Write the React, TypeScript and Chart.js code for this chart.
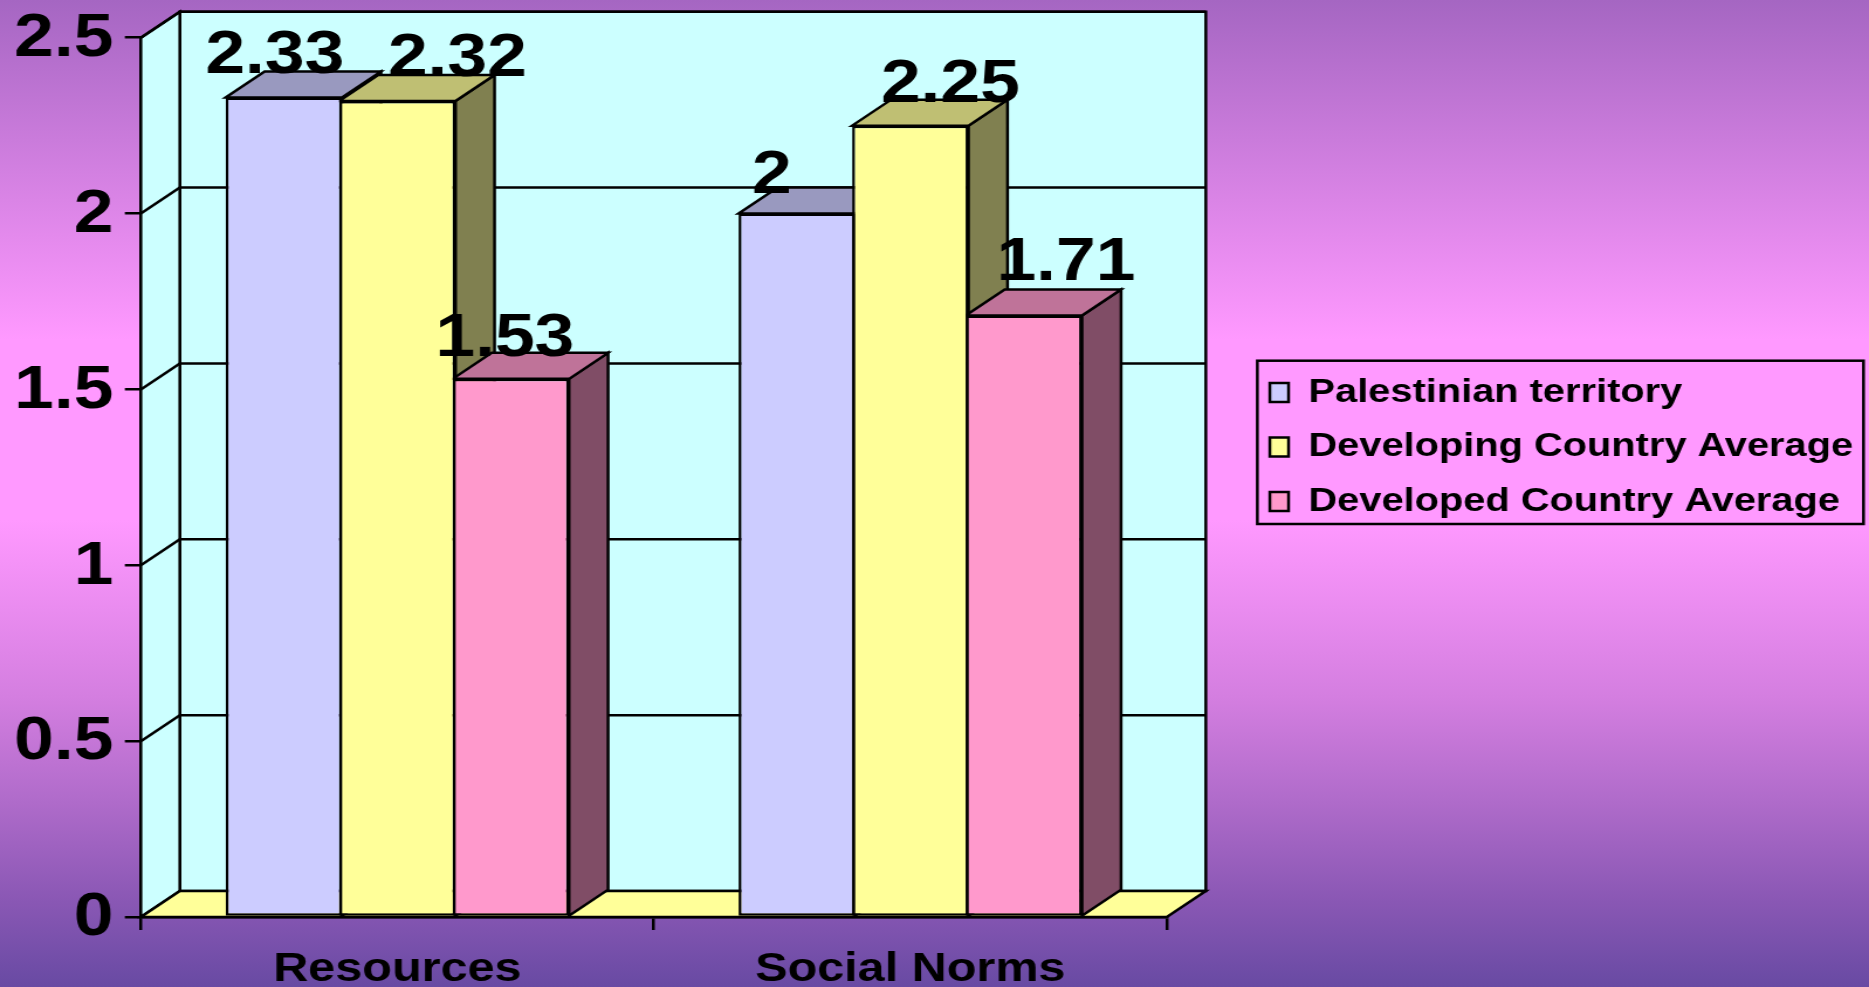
import React, { useEffect, useRef } from "react";
import { Chart, registerables } from "chart.js";

Chart.register(...registerables);

const categories = ["Resources", "Social Norms"];
const seriesNames = ["Palestinian territory", "Developing Country Average", "Developed Country Average"];
const palestinian = [2.33, 2];
const developing = [2.32, 2.25];
const developed = [1.53, 1.71];

const W = 1869;
const H = 987;
const SX = 1.17; // the reference is stretched horizontally
const X = (px: number) => px / SX;
const DX = X(39);
const DY = 26;
const LW = 2.5;
const FONT = "'Liberation Sans', Arial, sans-serif";

const fronts = ["#CCCCFF", "#FFFF99", "#FF99CC"];
const tops = ["#9999BF", "#BFBF73", "#BF7399"];
const sides = ["#808099", "#808050", "#804D66"];

// label nudges from the bar's top-centre, in page px: [dx, dy baseline]
const labelNudges = [
  [[-9, -24], [-25, -21]],
  [[60, -25], [40, -24]],
  [[-6, -23], [42, -36]],
];

function poly(ctx: CanvasRenderingContext2D, pts: number[][], fill: string) {
  ctx.beginPath();
  pts.forEach((p, i) => (i ? ctx.lineTo(p[0], p[1]) : ctx.moveTo(p[0], p[1])));
  ctx.closePath();
  ctx.fillStyle = fill;
  ctx.fill();
  ctx.stroke();
}

const threeD = {
  id: "threeD",
  afterLayout(chart: any) {
    const lg = chart.legend;
    lg.left = X(1269.5) - 20.5;
    lg.right = X(1869);
    lg.top = 355;
    lg.bottom = 560;
  },
  beforeDatasetsDraw(chart: any) {
    const ctx = chart.ctx as CanvasRenderingContext2D;
    const { left, right, top, bottom } = chart.chartArea;
    const yS = chart.scales.y;
    ctx.save();
    ctx.strokeStyle = "#000";
    ctx.lineWidth = LW;
    ctx.lineJoin = "miter";
    // back wall
    poly(ctx, [[left + DX, top - DY], [right + DX, top - DY], [right + DX, bottom - DY], [left + DX, bottom - DY]], "#CCFFFF");
    // side wall
    poly(ctx, [[left, top], [left + DX, top - DY], [left + DX, bottom - DY], [left, bottom]], "#CCFFFF");
    // floor
    poly(ctx, [[left, bottom], [left + DX, bottom - DY], [right + DX, bottom - DY], [right, bottom]], "#FFFF99");
    // gridlines
    yS.ticks.forEach((t: any) => {
      const y = yS.getPixelForValue(t.value);
      if (t.value === 0) return;
      ctx.beginPath();
      ctx.moveTo(left, y);
      ctx.lineTo(left + DX, y - DY);
      ctx.lineTo(right + DX, y - DY);
      ctx.stroke();
    });
    // bar sides and tops
    chart.data.datasets.forEach((_: any, d: number) => {
      chart.getDatasetMeta(d).data.forEach((b: any) => {
        const l = b.x - b.width / 2;
        const r = b.x + b.width / 2;
        poly(ctx, [[r, b.y], [r + DX, b.y - DY], [r + DX, b.base - DY], [r, b.base]], sides[d]);
        poly(ctx, [[l, b.y], [l + DX, b.y - DY], [r + DX, b.y - DY], [r, b.y]], tops[d]);
      });
    });
    // legend frame
    ctx.strokeRect(X(1257), 360.7, X(1863 - 1257), 524 - 360.7);
    ctx.restore();
  },
  afterDatasetsDraw(chart: any) {
    const ctx = chart.ctx as CanvasRenderingContext2D;
    ctx.save();
    ctx.fillStyle = "#000";
    ctx.font = `bold 61px ${FONT}`;
    ctx.textAlign = "center";
    ctx.textBaseline = "alphabetic";
    chart.data.datasets.forEach((ds: any, d: number) => {
      chart.getDatasetMeta(d).data.forEach((b: any, i: number) => {
        const [nx, ny] = labelNudges[d][i];
        ctx.fillText(String(ds.data[i]), b.x + X(nx), b.y + ny);
      });
    });
    ctx.restore();
  },
};

export default function App() {
  const ref = useRef<HTMLCanvasElement>(null);
  useEffect(() => {
    const values = [palestinian, developing, developed];
    const chart = new Chart(ref.current!, {
      type: "bar",
      data: {
        labels: categories,
        datasets: seriesNames.map((label, i) => ({
          label,
          data: values[i],
          backgroundColor: fronts[i],
          borderColor: "#000",
          borderWidth: LW,
          borderSkipped: false,
        })),
      },
      plugins: [threeD],
      options: {
        animation: false,
        responsive: false,
        devicePixelRatio: 1,
        layout: { padding: { left: 0, top: 37.7, right: X(W - 1167), bottom: 0 } },
        datasets: { bar: { categoryPercentage: 0.664, barPercentage: 1.025 } },
        scales: {
          x: {
            afterFit: (s: any) => {
              s.height = H - 917;
              s.paddingLeft = 0;
              s.paddingRight = 0;
            },
            border: { color: "#000", width: LW },
            grid: { drawOnChartArea: false, drawTicks: true, tickLength: 13, color: "#000", lineWidth: LW },
            ticks: { color: "#000", maxRotation: 0, autoSkip: false, padding: 15, font: { family: FONT, weight: "bold", size: 41.5 } },
          },
          y: {
            min: 0,
            max: 2.5,
            afterFit: (s: any) => {
              s.width = X(140.8);
              s.paddingTop = 0;
              s.paddingBottom = 0;
            },
            border: { color: "#000", width: LW },
            grid: { drawOnChartArea: false, drawTicks: true, tickLength: X(16), color: "#000", lineWidth: LW },
            ticks: {
              color: "#000",
              stepSize: 0.5,
              padding: X(11.5),
              labelOffset: 1.5,
              font: { family: FONT, weight: "bold", size: 61 },
              callback: (v: any) => String(v),
            },
          },
        },
        plugins: {
          title: { display: false },
          tooltip: { enabled: false },
          legend: {
            position: "chartArea",
            align: "start",
            labels: {
              color: "#000",
              boxWidth: 16,
              boxHeight: 19,
              padding: 20.5,
              font: { family: FONT, weight: "bold", size: 34 },
            },
          },
        },
      } as any,
    } as any);
    return () => chart.destroy();
  }, []);

  return (
    <div
      style={{
        position: "fixed",
        inset: 0,
        overflow: "hidden",
        background:
          "linear-gradient(180deg, #A566C2 0px, #FF99FF 340px, #FF99FF 520px, #D47EE0 697px, #B16CCB 797px, #8B58B5 897px, #684AA3 987px)",
      }}
    >
      <canvas
        ref={ref}
        width={Math.round(W / SX)}
        height={H}
        style={{ position: "absolute", left: 0, top: 0, width: W, height: H, display: "block" }}
      />
    </div>
  );
}
